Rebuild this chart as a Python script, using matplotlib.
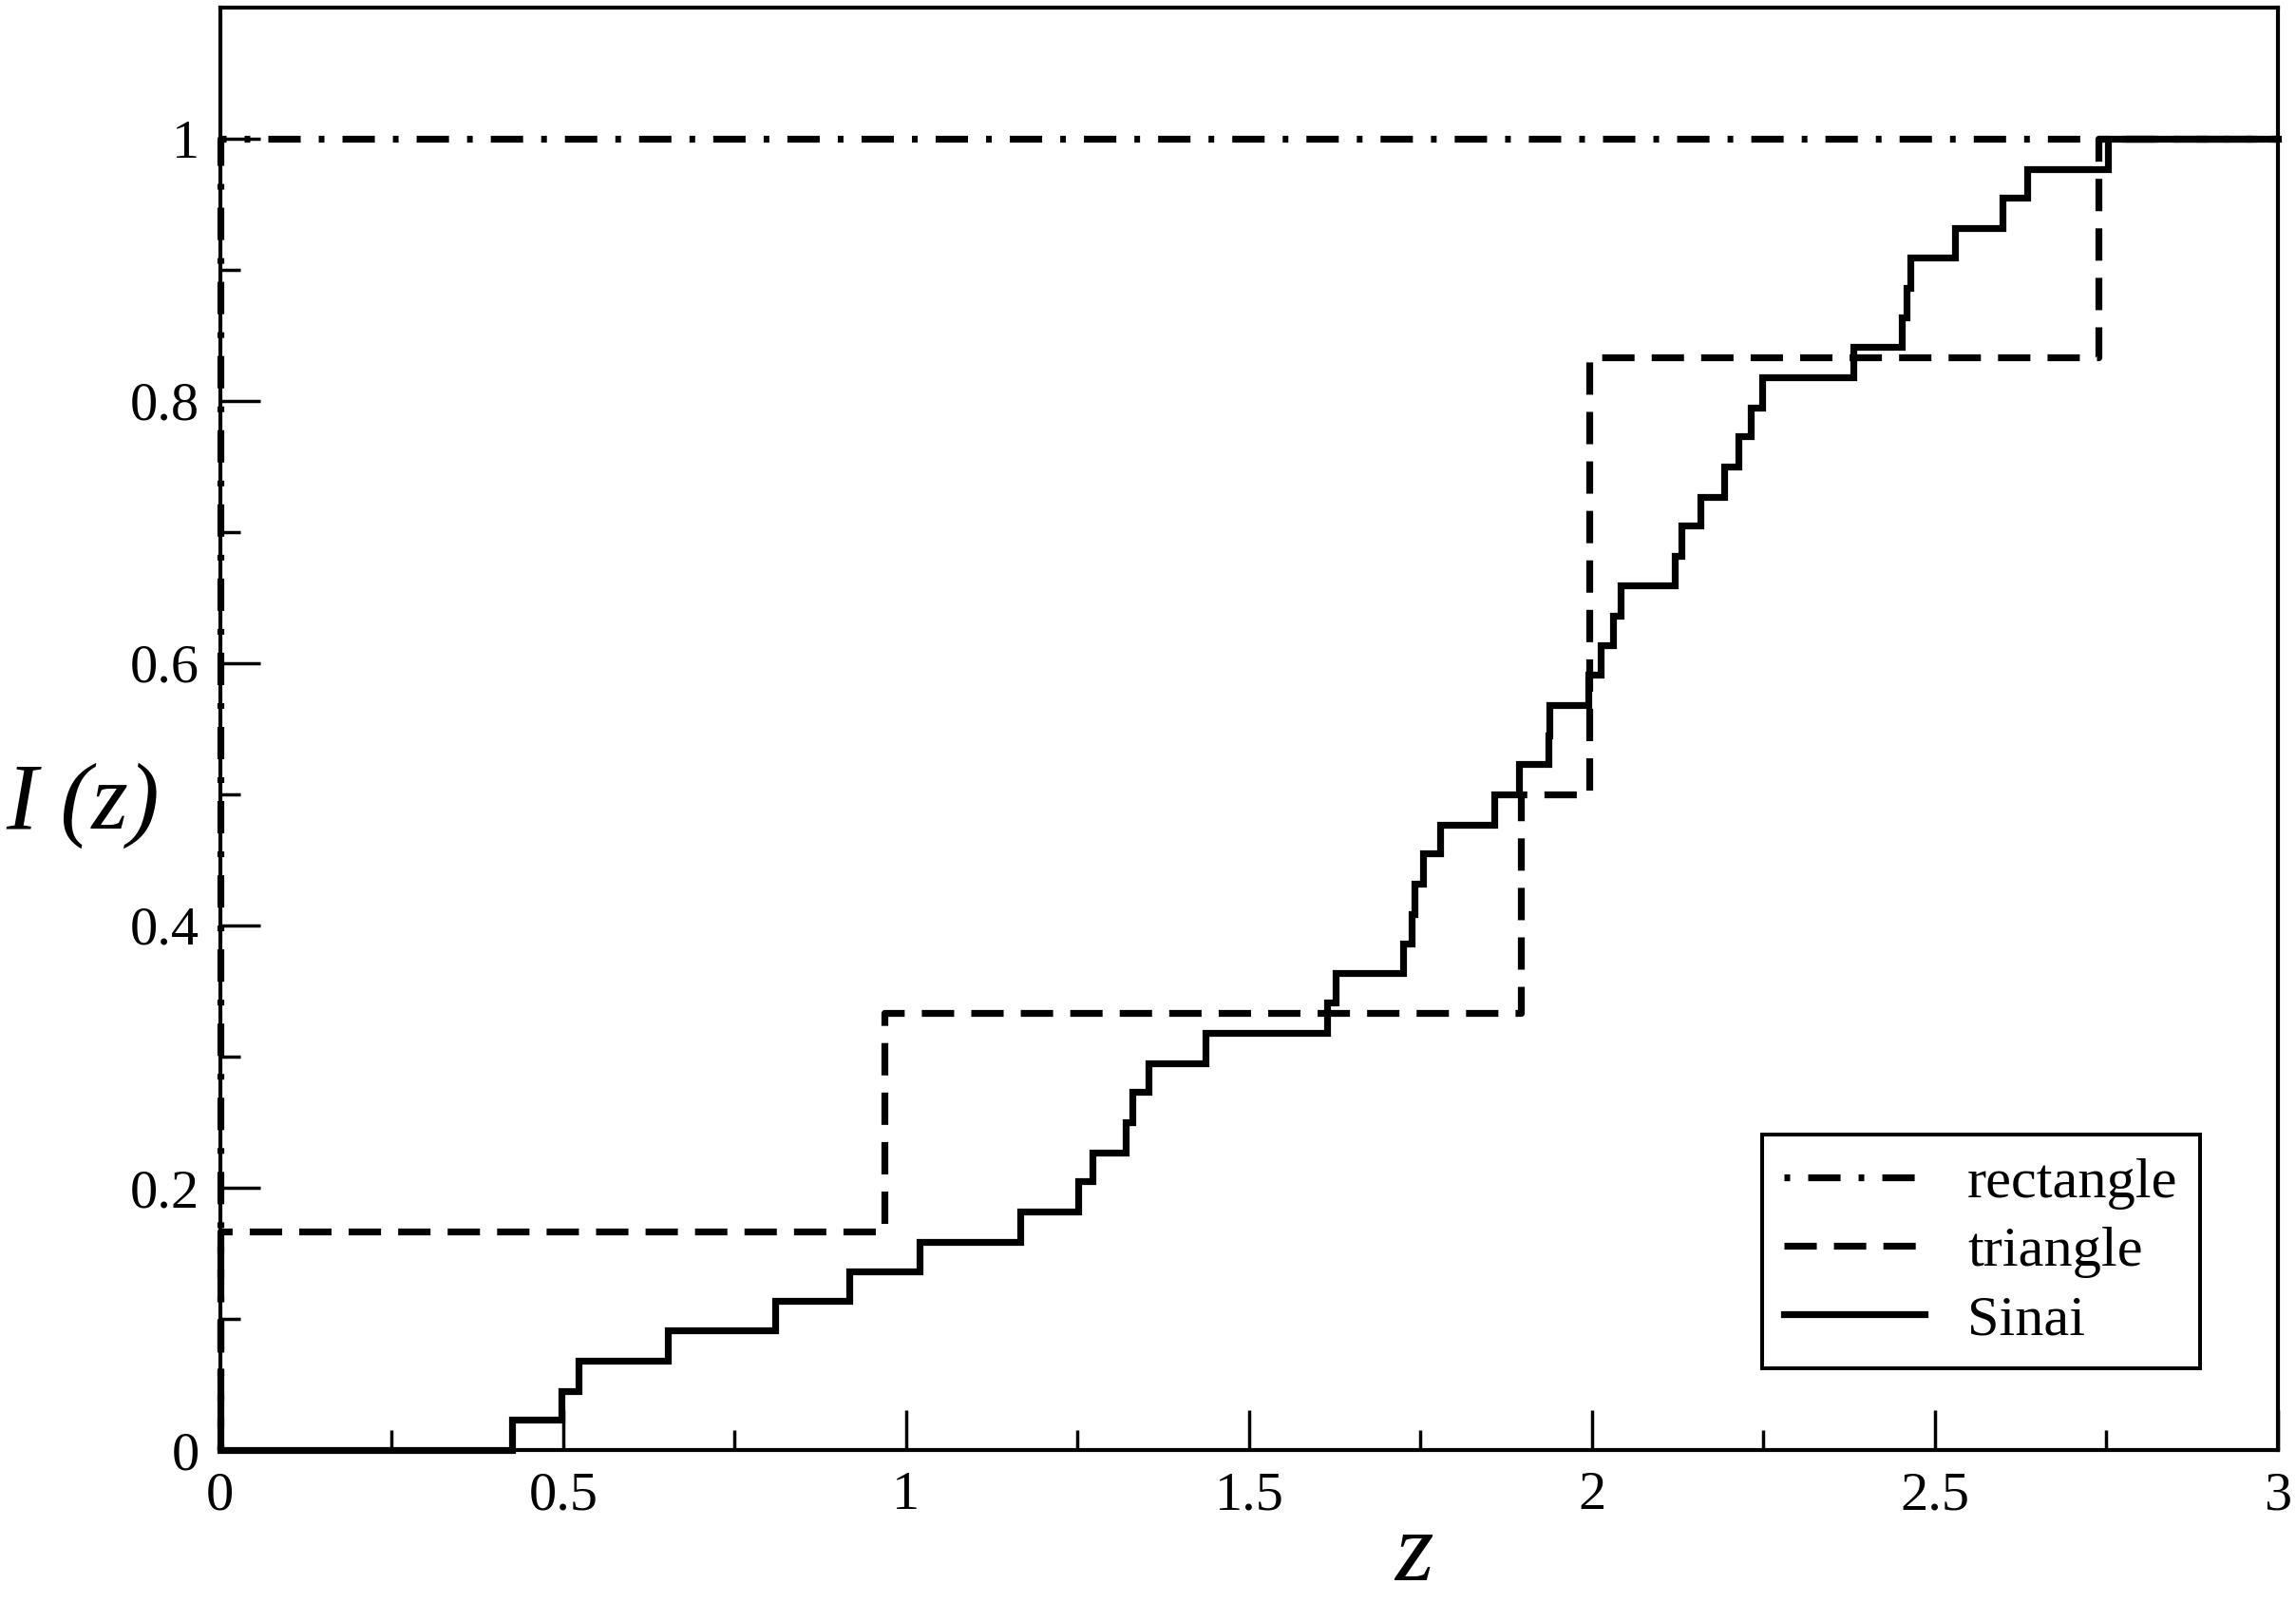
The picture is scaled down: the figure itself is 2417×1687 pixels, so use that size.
import matplotlib
matplotlib.use("Agg")
import matplotlib.pyplot as plt

plt.rcParams['font.family'] = ['Liberation Serif', 'DejaVu Serif']
plt.rcParams['lines.scale_dashes'] = False

# rectangle billiard: everything jumps to 1 at z = 0
rect_z = [0, 0, 3.0]
rect_I = [0, 1.0, 1.0]

# triangle billiard
tri_z = [0, 0, 0.969, 1.896, 1.996, 2.739, 3.0]
tri_I = [0, 0.1667, 0.3333, 0.5, 0.8333, 1.0, 1.0]

# Sinai billiard (step positions)
sinai_z = [0, 0.425, 0.497, 0.522, 0.653, 0.809, 0.917, 1.019, 1.167, 1.251,
           1.271, 1.320, 1.330, 1.353, 1.437, 1.614, 1.626, 1.724, 1.737, 1.741,
           1.754, 1.778, 1.858, 1.893, 1.936, 1.938, 1.995, 2.012, 2.031, 2.042,
           2.121, 2.131, 2.158, 2.193, 2.214, 2.232, 2.248, 2.381, 2.452, 2.458,
           2.464, 2.529, 2.599, 2.634, 2.752, 3.0]
sinai_I = [0, 0.023, 0.045, 0.068, 0.091, 0.114, 0.136, 0.159, 0.182, 0.205,
           0.227, 0.250, 0.273, 0.295, 0.318, 0.341, 0.364, 0.386, 0.409, 0.432,
           0.455, 0.477, 0.500, 0.523, 0.545, 0.568, 0.591, 0.614, 0.636, 0.659,
           0.682, 0.705, 0.727, 0.750, 0.773, 0.795, 0.818, 0.841, 0.864, 0.886,
           0.909, 0.932, 0.955, 0.977, 1.0, 1.0]

x_ticks = [0, 0.5, 1, 1.5, 2, 2.5, 3]
x_labels = ["0", "0.5", "1", "1.5", "2", "2.5", "3"]
y_ticks = [0, 0.2, 0.4, 0.6, 0.8, 1.0]
y_labels = ["0", "0.2", "0.4", "0.6", "0.8", "1"]

fig = plt.figure(figsize=(24.17, 16.87), dpi=100)
ax = fig.add_axes([0.0959, 0.0954, 0.8962, 0.9000])

lw = 5.2
ax.step(rect_z, rect_I, where='post', color='black', lw=lw,
        linestyle=(38.2, (24.5, 13.7, 4.3, 13.7)), dash_capstyle='butt',
        clip_on=False, label='rectangle')
ax.step(tri_z, tri_I, where='post', color='black', lw=lw,
        linestyle=(0, (24.5, 13.0)), dash_capstyle='butt',
        clip_on=False, label='triangle')
ax.step(sinai_z, sinai_I, where='post', color='black', lw=lw,
        solid_joinstyle='miter', clip_on=False, label='Sinai')

ax.set_xlim(0, 3)
ax.set_ylim(0, 1.1)
ax.set_xticks(x_ticks)
ax.set_xticklabels(x_labels)
ax.set_yticks(y_ticks)
ax.set_yticklabels(y_labels)
ax.set_xticks([0.25, 0.75, 1.25, 1.75, 2.25, 2.75], minor=True)
ax.set_yticks([0.1, 0.3, 0.5, 0.7, 0.9], minor=True)

ax.tick_params(which='both', direction='in', top=False, right=False,
               width=2.5, labelsize=42, pad=16)
ax.tick_params(which='major', length=30)
ax.tick_params(which='minor', length=15)
for s in ax.spines.values():
    s.set_linewidth(3)

fig.text(1488 / 2417, (1687 - 1663) / 1687, 'z', fontstyle='italic',
         fontsize=75, ha='center', va='baseline')
fig.text(6 / 2417, 1 - 848 / 1687, 'I (z)', fontstyle='italic',
         fontsize=71, ha='left', va='center')

leg = ax.legend(loc='lower right', bbox_to_anchor=(0.962, 0.0566),
                borderaxespad=0, fontsize=43.5, handlelength=2.45,
                handletextpad=0.75, borderpad=0.38, labelspacing=0.28,
                fancybox=False, edgecolor='black', framealpha=1)
leg.get_frame().set_linewidth(2.9)

fig.savefig("out.png", dpi=100)
